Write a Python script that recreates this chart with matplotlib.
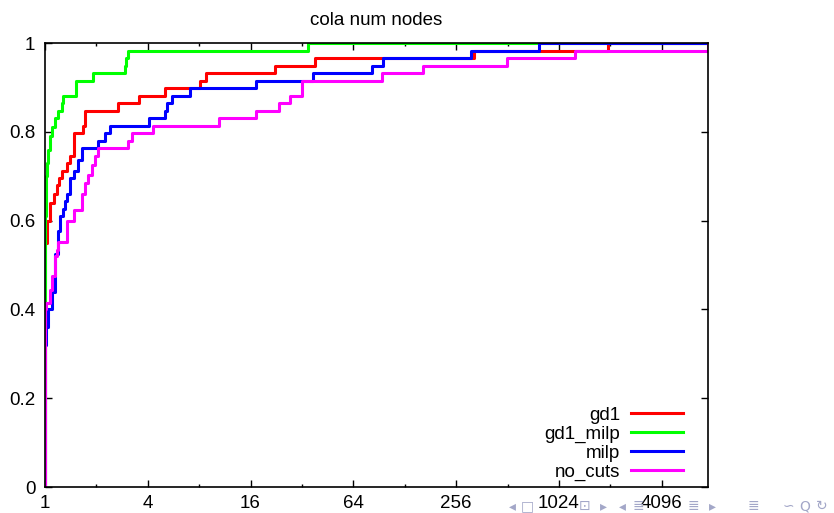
import matplotlib
matplotlib.use("Agg")
from matplotlib import pyplot as plt
from matplotlib.ticker import NullFormatter

plt.rcParams["font.family"] = ["Liberation Sans", "DejaVu Sans"]

title = "cola num nodes"
x_max = 7650

# performance ratio where each profile steps up, and the fraction of instances reached there
gd1_ratio = [1.0, 1.03, 1.07, 1.13, 1.17, 1.21, 1.25, 1.34, 1.40, 1.47, 1.68, 1.72,
             2.66, 3.53, 5.06, 8.04, 8.80, 22.1, 38.4, 325, 1985]
gd1_frac = [0.55, 0.60, 0.64, 0.66, 0.68, 0.695, 0.712, 0.729, 0.746, 0.797, 0.814, 0.847,
            0.864, 0.881, 0.898, 0.915, 0.932, 0.949, 0.966, 0.983, 1.0]

gd1_milp_ratio = [1.0, 1.01, 1.02, 1.03, 1.045, 1.07, 1.095, 1.15, 1.19, 1.25, 1.28,
                  1.52, 1.9, 2.95, 3.0, 3.07, 34.5]
gd1_milp_frac = [0.61, 0.66, 0.70, 0.73, 0.76, 0.79, 0.81, 0.83, 0.847, 0.864, 0.881,
                 0.915, 0.932, 0.949, 0.966, 0.983, 1.0]

milp_ratio = [1.0, 1.02, 1.045, 1.095, 1.145, 1.197, 1.225, 1.27, 1.31, 1.34, 1.40, 1.47,
              1.57, 1.64, 2.05, 2.25, 2.41, 4.04, 5.06, 5.18, 5.54, 7.03, 17.2, 37.2,
              82.6, 95.3, 312, 778]
milp_frac = [0.32, 0.36, 0.40, 0.44, 0.525, 0.576, 0.61, 0.627, 0.644, 0.661, 0.695, 0.712,
             0.737, 0.763, 0.78, 0.797, 0.814, 0.831, 0.847, 0.864, 0.881, 0.898, 0.915, 0.932,
             0.949, 0.966, 0.983, 1.0]

no_cuts_ratio = [1.0, 1.02, 1.07, 1.095, 1.145, 1.17, 1.197, 1.34, 1.47, 1.64, 1.72, 1.795,
                 1.88, 1.965, 2.05, 3.08, 3.23, 4.32, 10.5, 17.2, 23.6, 27.1, 32.1, 94.6,
                 164, 511, 1277, 7650]
no_cuts_frac = [0.40, 0.414, 0.444, 0.475, 0.52, 0.534, 0.552, 0.60, 0.624, 0.661, 0.684, 0.703,
                0.725, 0.746, 0.763, 0.78, 0.797, 0.814, 0.831, 0.847, 0.864, 0.881, 0.915, 0.932,
                0.949, 0.966, 0.983, 1.0]

x_ticks = [1, 4, 16, 64, 256, 1024, 4096]
x_minor = [2, 8, 32, 128, 512, 2048]
y_ticks = [0, 0.2, 0.4, 0.6, 0.8, 1]
y_labels = ["0", "0.2", "0.4", "0.6", "0.8", "1"]

series = [
    ("gd1", gd1_ratio, gd1_frac, "#ff0000"),
    ("gd1_milp", gd1_milp_ratio, gd1_milp_frac, "#00ff00"),
    ("milp", milp_ratio, milp_frac, "#0000ff"),
    ("no_cuts", no_cuts_ratio, no_cuts_frac, "#ff00ff"),
]

fig = plt.figure(figsize=(8.34, 5.13), dpi=100)
ax = fig.add_axes([45 / 834, 1 - 487 / 513, 663 / 834, 444 / 513])

for name, r, f, c in series:
    xs = [1.0] + r + [x_max]
    ys = [0.0] + f + [f[-1]]
    ax.plot(xs, ys, drawstyle="steps-post", color=c, lw=2.2, label=name)

ax.set_xscale("log", base=2)
ax.set_xlim(1, x_max)
ax.set_ylim(0, 1)
ax.set_xticks(x_ticks)
ax.set_xticklabels([str(t) for t in x_ticks])
ax.set_xticks(x_minor, minor=True)
ax.xaxis.set_minor_formatter(NullFormatter())
ax.set_yticks(y_ticks)
ax.set_yticklabels(y_labels)
ax.tick_params(which="both", direction="in", top=True, right=True, labelsize=13.5, width=1)
ax.tick_params(axis="x", which="major", length=5, pad=6)
ax.tick_params(axis="y", which="major", length=5, pad=7)
ax.tick_params(which="minor", length=2.5)
for s in ax.spines.values():
    s.set_linewidth(1.2)

ax.set_title(title, fontsize=13.5, pad=13)

ax.legend(loc="lower right", bbox_to_anchor=(0.962, 0.013), frameon=False, markerfirst=False,
          handlelength=2.75, handletextpad=0.6, labelspacing=0.1, borderpad=0,
          borderaxespad=0, fontsize=13.5)

# beamer navigation symbols along the bottom edge (they sit over the last tick labels)
nav = [(512, "◂"), (527, "□"), (585, "⊡"), (603, "▸"), (622, "◂"), (638, "≣"),
       (693, "≣"), (712, "▸"), (753, "≣"), (788, "∽"), (805, "Q"), (822, "↻")]
for px, ch in nav:
    fig.text(px / 834, 1 - 506 / 513, ch, color="#a3a7c8", fontsize=10,
             ha="center", va="center", family=["DejaVu Sans"])

fig.savefig("out.png", dpi=100)
